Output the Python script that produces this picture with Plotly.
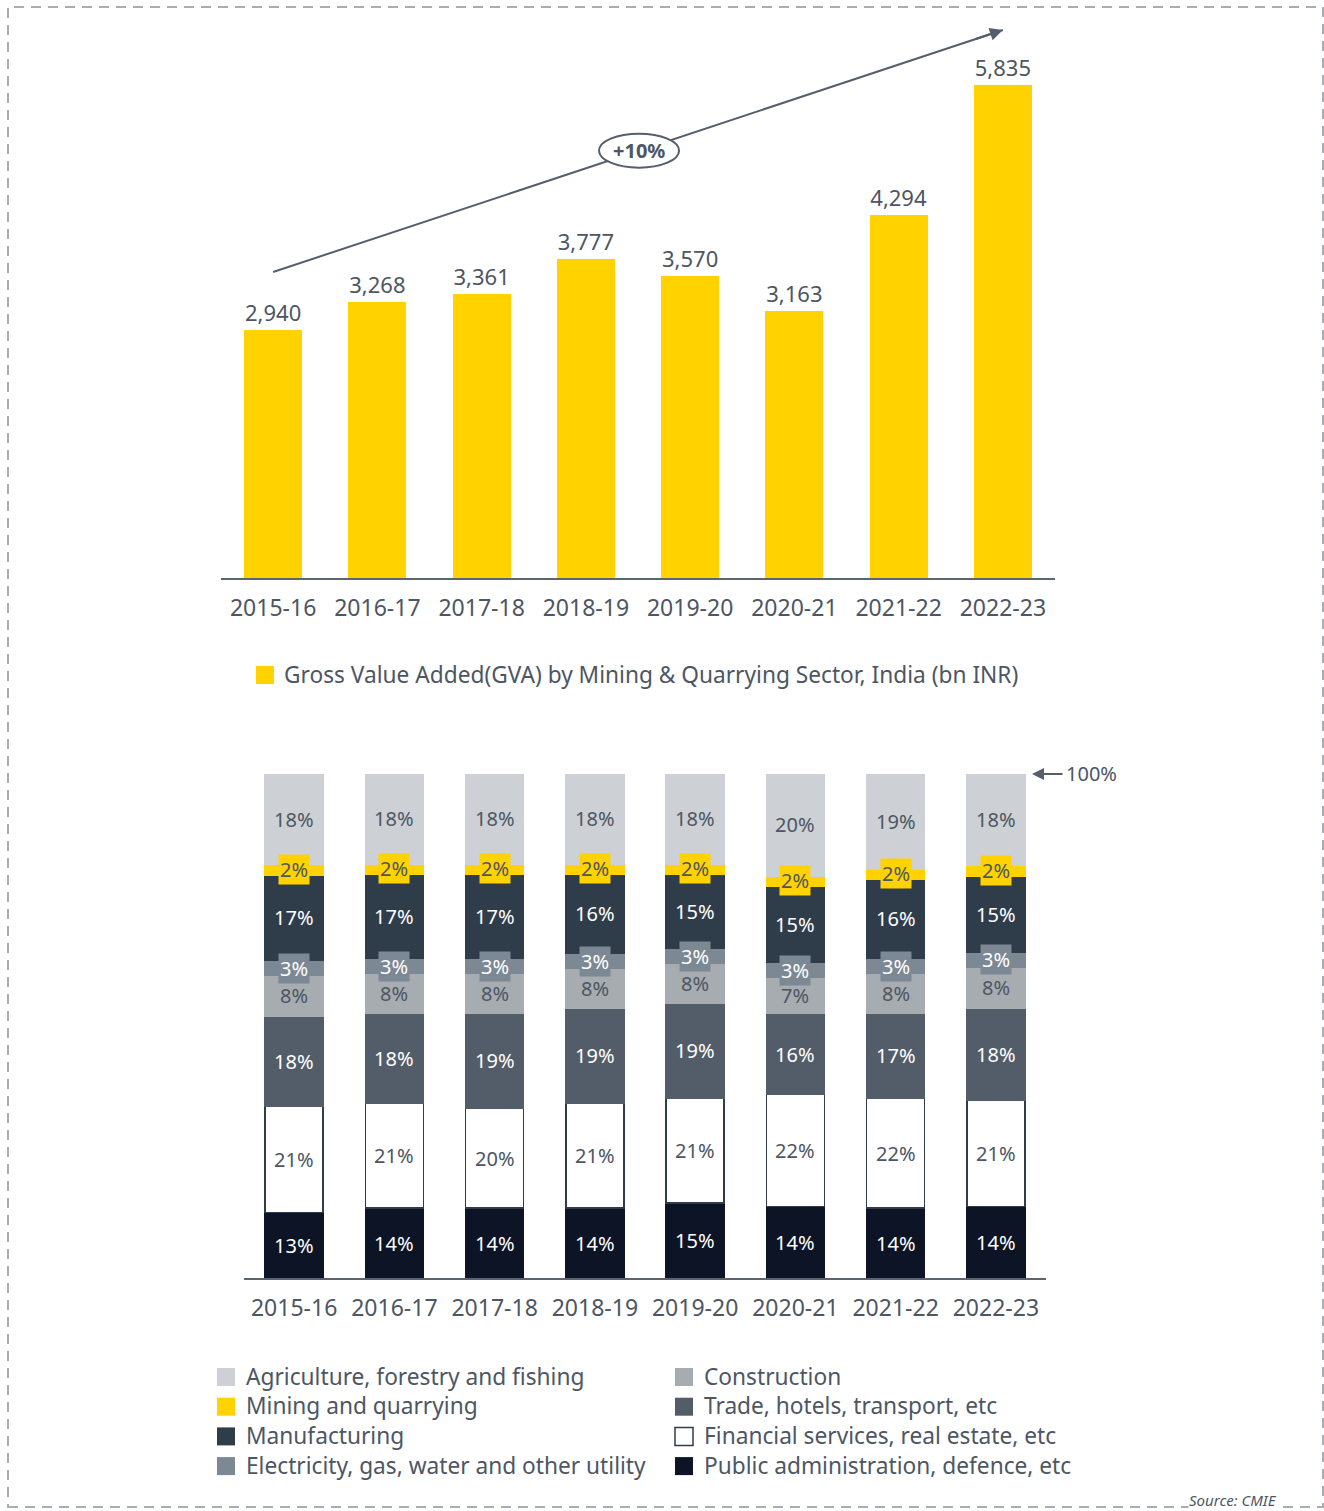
import plotly.graph_objects as go

W, H = 1324, 1511

years = ['2015-16', '2016-17', '2017-18', '2018-19', '2019-20', '2020-21', '2021-22', '2022-23']
gva = [2940, 3268, 3361, 3777, 3570, 3163, 4294, 5835]

cagr_label = '+10%'

agri = [18, 18, 18, 18, 18, 20, 19, 18]
mining = [2, 2, 2, 2, 2, 2, 2, 2]
manuf = [17, 17, 17, 16, 15, 15, 16, 15]
elec = [3, 3, 3, 3, 3, 3, 3, 3]
constr = [8, 8, 8, 8, 8, 7, 8, 8]
trade = [18, 18, 19, 19, 19, 16, 17, 18]
fin = [21, 21, 20, 21, 21, 22, 22, 21]
pub = [13, 14, 14, 14, 15, 14, 14, 14]

FONT = 'Noto Sans'
TXT = '#4d5663'
YEL = '#FFD200'

# stacking order bottom -> top: (name, values, fill, text colour, boxed label)
segments = [
    ('Public administration, defence, etc', pub, '#0c1425', 'white', False),
    ('Financial services, real estate, etc', fin, '#ffffff', TXT, False),
    ('Trade, hotels, transport, etc', trade, '#535d69', 'white', False),
    ('Construction', constr, '#a7acb1', TXT, False),
    ('Electricity, gas, water and other utility', elec, '#7c8893', 'white', True),
    ('Manufacturing', manuf, '#2f3d4b', 'white', False),
    ('Mining and quarrying', mining, YEL, TXT, True),
    ('Agriculture, forestry and fishing', agri, '#cdd1d5', TXT, False),
]

legend_left = ['Agriculture, forestry and fishing', 'Mining and quarrying', 'Manufacturing',
               'Electricity, gas, water and other utility']
legend_right = ['Construction', 'Trade, hotels, transport, etc', 'Financial services, real estate, etc',
                'Public administration, defence, etc']

def px(x):
    return x / W

def py(y):
    return 1 - y / H

xs = list(range(len(years)))
fig = go.Figure()

# ---------- top chart ----------
fig.add_trace(go.Bar(
    x=xs, y=gva, xaxis='x', yaxis='y', marker=dict(color=YEL, line=dict(width=0)),
    width=0.556, text=[f'{v:,}' for v in gva], textposition='outside',
    textfont=dict(family=FONT, size=22, color=TXT), cliponaxis=False, showlegend=False,
))

top_y_per_px = 5835 / (578 - 85)
def ty(pix):
    return (578 - pix) * top_y_per_px

trend_x = [0, 7]
trend_y = [ty(272), ty(30)]
fig.add_trace(go.Scatter(
    x=trend_x, y=trend_y, xaxis='x', yaxis='y', mode='lines',
    line=dict(color='#555f6b', width=2), showlegend=False, cliponaxis=False,
))

# ---------- bottom chart (100% stacked) ----------
totals = [sum(s[1][i] for s in segments) for i in range(len(years))]
for name, vals, color, tc, boxed in segments:
    line_col = '#2f3d4b' if color == '#ffffff' else color
    share = [v / t * 100 for v, t in zip(vals, totals)]
    fig.add_trace(go.Bar(
        x=xs, y=share, xaxis='x2', yaxis='y2', name=name,
        marker=dict(color=color, line=dict(color=line_col, width=1.5)),
        width=0.579, showlegend=False,
    ))

annotations = []
shapes = []

# segment labels
for i in range(len(years)):
    total = totals[i]
    cum = 0
    for name, vals, color, tc, boxed in segments:
        v = vals[i]
        mid = (cum + v / 2) / total * 100
        cum += v
        a = dict(x=xs[i], y=mid, xref='x2', yref='y2', text=f'{v}%', showarrow=False,
                 xanchor='center', yanchor='middle',
                 font=dict(family=FONT, size=20, color=tc))
        if boxed:
            a.update(bgcolor=color, borderpad=1)
        annotations.append(a)

# trend arrow head & ellipse label
annotations.append(dict(x=trend_x[1], y=trend_y[1], xref='x', yref='y', ax=-28.5, ay=9.5,
                        text='', showarrow=True, arrowhead=2, arrowsize=1.3, arrowwidth=2,
                        arrowcolor='#555f6b'))
ex = 3.51
ey = trend_y[0] + (trend_y[1] - trend_y[0]) * ex / 7
shapes.append(dict(type='circle', xref='x', yref='y', xsizemode='pixel', ysizemode='pixel',
                   xanchor=ex, yanchor=ey, x0=-40, x1=40, y0=-17, y1=17,
                   fillcolor='white', line=dict(color='#555f6b', width=2), layer='above'))
annotations.append(dict(x=ex, y=ey, xref='x', yref='y', text='<b>' + cagr_label + '</b>', showarrow=False,
                        xanchor='center', yanchor='middle',
                        font=dict(family=FONT, size=20, color=TXT)))

# 100% arrow
annotations.append(dict(x=px(1032), y=py(774), xref='paper', yref='paper', ax=32, ay=0,
                        text='', showarrow=True, arrowhead=2, arrowsize=1.2, arrowwidth=2,
                        arrowcolor='#555f6b'))
annotations.append(dict(x=px(1064), y=py(773), xref='paper', yref='paper', xanchor='left', yanchor='middle',
                        text='100%', showarrow=False, font=dict(family=FONT, size=20, color=TXT)))

# top legend
shapes.append(dict(type='rect', xref='paper', yref='paper', x0=px(256), x1=px(274), y0=py(684), y1=py(666),
                   fillcolor=YEL, line=dict(width=0)))
annotations.append(dict(x=px(282), y=py(675), xref='paper', yref='paper', xanchor='left', yanchor='middle',
                        text='Gross Value Added(GVA) by Mining & Quarrying Sector, India (bn INR)',
                        showarrow=False, font=dict(family=FONT, size=22.7, color=TXT)))

# bottom legend
seg_color = {s[0]: s[2] for s in segments}
for col, (items, sx) in enumerate([(legend_left, 217), (legend_right, 675)]):
    for r, name in enumerate(items):
        cy = 1377 + r * 29.7
        c = seg_color[name]
        shapes.append(dict(type='rect', xref='paper', yref='paper', x0=px(sx), x1=px(sx + 18),
                           y0=py(cy + 9), y1=py(cy - 9), fillcolor=c,
                           line=dict(color='#2f3d4b' if c == '#ffffff' else c, width=1.5 if c == '#ffffff' else 0)))
        annotations.append(dict(x=px(sx + 27), y=py(cy - 1), xref='paper', yref='paper', xanchor='left',
                                yanchor='middle', text=name, showarrow=False,
                                font=dict(family=FONT, size=22.7, color=TXT)))

# dashed border
shapes.append(dict(type='rect', xref='paper', yref='paper', x0=px(8), x1=px(1323), y0=py(1507), y1=py(7),
                   line=dict(color='#a8adb3', width=2, dash='10px,7px'), layer='below'))
annotations.append(dict(x=px(1233), y=py(1500), xref='paper', yref='paper', text='Source: CMIE',
                        xanchor='center', yanchor='middle', showarrow=False, bgcolor='white',
                        borderpad=0,
                        font=dict(family=FONT, size=15, color=TXT, style='italic')))

axis_common = dict(showgrid=False, zeroline=False)
fig.update_layout(
    width=W, height=H, margin=dict(l=0, r=0, t=0, b=0),
    paper_bgcolor='white', plot_bgcolor='white', barmode='stack',
    xaxis=dict(domain=[px(221), px(1055)], range=[-0.5, 7.5], tickvals=xs, ticktext=years,
               showline=True, linecolor='#5b6570', linewidth=2, ticks='', anchor='y',
               tickfont=dict(family=FONT, size=23, color=TXT), ticklabelstandoff=8, **axis_common),
    yaxis=dict(domain=[py(578), py(20)], range=[0, ty(20)], visible=False, anchor='x', **axis_common),
    xaxis2=dict(domain=[px(244), px(1046)], range=[-0.5, 7.5], tickvals=xs, ticktext=years,
                showline=True, linecolor='#5b6570', linewidth=2, ticks='', anchor='y2',
                tickfont=dict(family=FONT, size=23, color=TXT), ticklabelstandoff=8, **axis_common),
    yaxis2=dict(domain=[py(1278), py(774)], range=[0, 100], visible=False, anchor='x2', **axis_common),
    shapes=shapes, annotations=annotations,
)

fig.write_html('out.html')
